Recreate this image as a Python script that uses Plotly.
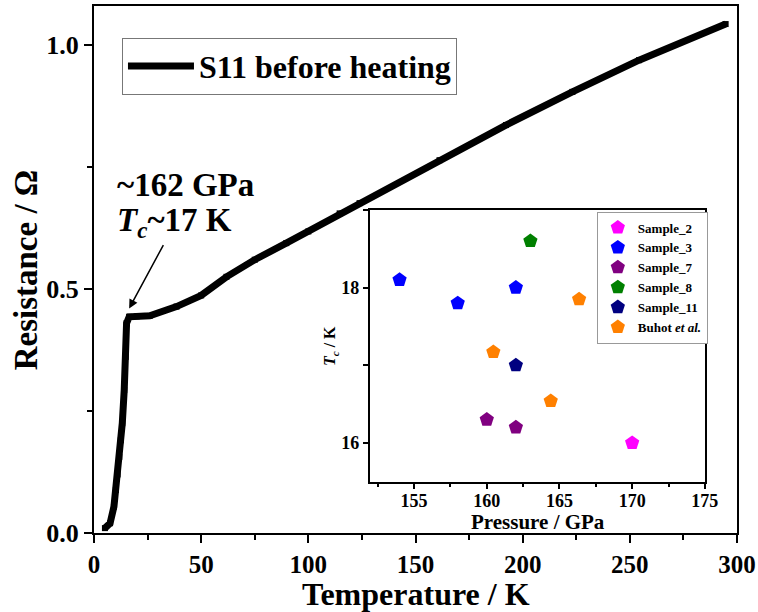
import plotly.graph_objects as go

# ---- main curve: S11 before heating ----
temperature = [5.1, 7.5, 9.3, 10.2, 11.0, 11.8, 12.5, 13.2, 14.1, 14.8, 15.2, 16.4,
               20, 26, 38.5, 50, 61.8, 75, 89.7, 100, 114.6, 123.9,
               161.2, 192.2, 223.2, 254.3, 294.7]
resistance = [0.010, 0.020, 0.054, 0.088, 0.120, 0.156, 0.190, 0.225, 0.293, 0.361, 0.430, 0.443,
              0.444, 0.445, 0.464, 0.487, 0.525, 0.560, 0.594, 0.618, 0.655, 0.676,
              0.764, 0.836, 0.904, 0.969, 1.043]

# ---- inset: Tc vs pressure ----
samples = ["Sample_2", "Sample_3", "Sample_7", "Sample_8", "Sample_11", "Buhot <i>et al.</i>"]
colors = ["#FF00FF", "#0000FF", "#800080", "#008000", "#000080", "#FF8000"]
pressures = [[170.0], [154.0, 158.0, 162.0], [160.0, 162.0], [163.0], [162.0], [160.45, 164.4, 166.35]]
tcs = [[16.0], [18.1, 17.8, 18.0], [16.3, 16.2], [18.6], [17.0], [17.17, 16.54, 17.85]]

FONT = "Liberation Serif"

fig = go.Figure()
fig.add_trace(go.Scatter(
    x=temperature, y=resistance, mode="lines+markers", name="S11 before heating",
    line=dict(color="black", width=7), marker=dict(symbol="square", size=6, color="black"),
    legend="legend", xaxis="x", yaxis="y"))

for name, c, px_, ty in zip(samples, colors, pressures, tcs):
    fig.add_trace(go.Scatter(
        x=px_, y=ty, mode="markers", name=name,
        marker=dict(symbol="pentagon", size=15, color=c),
        legend="legend2", xaxis="x2", yaxis="y2"))

main_axis = dict(showline=True, linecolor="black", linewidth=2, mirror=True,
                 ticks="outside", tickcolor="black", tickwidth=2, showgrid=False,
                 zeroline=False, automargin=False, ticklen=8)
inset_axis = dict(showline=True, linecolor="black", linewidth=1.5, mirror=True,
                  ticks="outside", tickcolor="black", tickwidth=1.5, showgrid=False,
                  zeroline=False, automargin=False, ticklen=6)

fig.update_layout(
    width=758, height=612,
    margin=dict(l=94, r=21, t=6, b=79),
    paper_bgcolor="white", plot_bgcolor="white",
    font=dict(family=FONT, color="black", weight="bold"),
    xaxis=dict(range=[0, 300], dtick=50,
               minor=dict(dtick=25, ticks="outside", ticklen=5, tickcolor="black", tickwidth=2),
               tickfont=dict(size=25, family=FONT, weight="bold"),
               **main_axis),
    yaxis=dict(range=[0, 1.08], tickvals=[0, 0.5, 1.0], tickformat=".1f",
               minor=dict(dtick=0.25, ticks="outside", ticklen=5, tickcolor="black", tickwidth=2),
               tickfont=dict(size=26, family=FONT, weight="bold"),
               **main_axis),
    xaxis2=dict(domain=[0.430, 0.950], anchor="y2", range=[152, 175], dtick=5,
                minor=dict(dtick=2.5, ticks="outside", ticklen=4, tickcolor="black", tickwidth=1.5),
                tickfont=dict(size=18, family=FONT, weight="bold"), ticklabelstandoff=-4,
                **inset_axis),
    yaxis2=dict(domain=[0.0973, 0.613], anchor="x2", range=[15.5, 19.0], tickvals=[16, 18],
                minor=dict(dtick=1, ticks="outside", ticklen=6, tickcolor="black", tickwidth=1.5),
                tickfont=dict(size=18, family=FONT, weight="bold"),
                **inset_axis),
    legend=dict(x=0.0435, y=0.94, xanchor="left", yanchor="top",
                bgcolor="white", bordercolor="#777777", borderwidth=1,
                font=dict(size=32, family=FONT, weight="bold"), itemwidth=66),
    legend2=dict(x=0.782, y=0.61, xanchor="left", yanchor="top",
                 bgcolor="white", bordercolor="#999999", borderwidth=1, tracegroupgap=0,
                 font=dict(size=13, family=FONT, weight="bold"), itemwidth=30),
    showlegend=True,
)

# axis titles (placed as paper annotations)
fig.add_annotation(xref="paper", yref="paper", x=0.5, y=-0.116, text="Temperature / K",
                   showarrow=False, xanchor="center", yanchor="middle",
                   font=dict(size=32, family=FONT, weight="bold"))
fig.add_annotation(xref="paper", yref="paper", x=-0.106, y=0.5, text="Resistance / Ω",
                   showarrow=False, xanchor="center", yanchor="middle", textangle=-90,
                   font=dict(size=33, family=FONT, weight="bold"))
fig.add_annotation(xref="x2 domain", yref="paper", x=0.5, y=0.0205, text="Pressure / GPa",
                   showarrow=False, xanchor="center", yanchor="middle",
                   font=dict(size=21, family=FONT, weight="bold"))
fig.add_annotation(xref="paper", yref="y2 domain", x=0.369, y=0.5,
                   text="<i>T</i><sub><i>c</i></sub> / K",
                   showarrow=False, xanchor="center", yanchor="middle", textangle=-90,
                   font=dict(size=16, family=FONT, weight="bold"))

# annotation text and arrow
fig.add_annotation(x=9.8, y=0.713, xref="x", yref="y", text="~162 GPa", showarrow=False,
                   xanchor="left", yanchor="middle", font=dict(size=33, family=FONT, weight="bold"))
fig.add_annotation(x=9.8, y=0.637, xref="x", yref="y", text="<i>T</i><sub><i>c</i></sub>~17 K", showarrow=False,
                   xanchor="left", yanchor="middle", font=dict(size=33, family=FONT, weight="bold"))
fig.add_annotation(x=16.4, y=0.46, xref="x", yref="y", text="", showarrow=True,
                   ax=35, ay=-65, arrowhead=2, arrowsize=1.2, arrowwidth=1.5, arrowcolor="black")

fig.write_html("out.html", config={"displayModeBar": False},
               post_script="document.body.style.margin='0px';")
